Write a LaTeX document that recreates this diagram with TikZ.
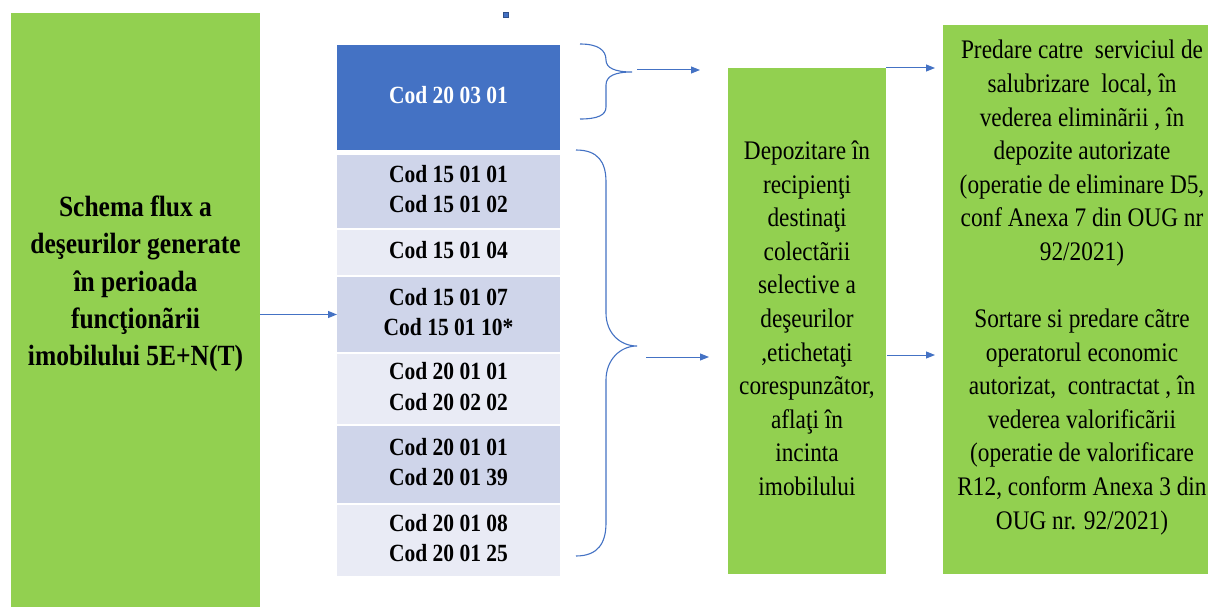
\documentclass[tikz,border=0pt]{standalone}
\usepackage{fontspec}
\usepackage{graphicx}
\setmainfont{Liberation Serif}
\usetikzlibrary{arrows.meta}
\definecolor{gr}{HTML}{92D050}
\definecolor{bl}{HTML}{4472C4}
\definecolor{rowdark}{HTML}{CFD5EA}
\definecolor{rowlight}{HTML}{E9EBF5}
\newcommand{\tallt}[1]{\scalebox{1}[1.15]{\begin{tabular}{@{}c@{}}#1\end{tabular}}}
\tikzset{
 box/.style={inner sep=0pt, outer sep=0pt, draw=none},
 codes/.style={align=center, font=\bfseries\fontsize{21.5}{26.1}\selectfont},
 body/.style={align=center, inner sep=0pt, font=\fontsize{23.3}{29.2}\selectfont},
 arr/.style={draw=bl, line width=1pt, -{Triangle[length=9pt,width=7pt]}},
 brace/.style={draw=bl, line width=1.1pt},
}
\begin{document}
\begin{tikzpicture}[x=1pt,y=-1pt]
\useasboundingbox[fill=white] (0,0) rectangle (1208,607);
% left box
\node[box, fill=gr, minimum width=249pt, minimum height=594pt] (left) at (135.5,310) {};
\node[align=center, inner sep=0pt, font=\bfseries\fontsize{25.5}{32.2}\selectfont] (lefttext) at (135.5,283.6)
 {\tallt{Schema flux a\\deşeurilor generate\\în perioada\\funcţionãrii\\imobilului 5E+N(T)}};
% small square
\node[box, fill=bl, draw=bl!70!black, line width=0.5pt, minimum size=5pt] (dot) at (506,15) {};
% codes
\node[box, fill=bl, text=white, codes, minimum width=223pt, minimum height=105pt] (c0) at (448.5,97.5) {\tallt{Cod 20 03 01}};
\node[box, fill=rowdark, codes, minimum width=223pt, minimum height=73pt] (r1) at (448.5,191.5) {\tallt{Cod 15 01 01\\Cod 15 01 02}};
\node[box, fill=rowlight, codes, minimum width=223pt, minimum height=45pt] (r2) at (448.5,252.5) {\tallt{Cod 15 01 04}};
\node[box, fill=rowdark, codes, minimum width=223pt, minimum height=75pt] (r3) at (448.5,314.5) {\tallt{Cod 15 01 07\\Cod 15 01 10*}};
\node[box, fill=rowlight, codes, minimum width=223pt, minimum height=70pt] (r4) at (448.5,389) {\tallt{Cod 20 01 01\\Cod 20 02 02}};
\node[box, fill=rowdark, codes, minimum width=223pt, minimum height=77pt] (r5) at (448.5,464.5) {\tallt{Cod 20 01 01\\Cod 20 01 39}};
\node[box, fill=rowlight, codes, minimum width=223pt, minimum height=71pt] (r6) at (448.5,540.5) {\tallt{Cod 20 01 08\\Cod 20 01 25}};
% left arrow
\draw[arr] (left.east |- r3.west) -- (r3.west);
% braces
\draw[brace] (580,44) .. controls (598,44) and (606,50) .. (606,60)
  .. controls (606,68) and (615,72) .. (632,72)
  .. controls (615,72) and (606,76) .. (606,85) -- (606,107)
  .. controls (606,115) and (598,119) .. (580,119);
\draw[brace] (576,150) .. controls (598,150) and (606,162) .. (606,182) -- (606,313)
  .. controls (606,333) and (620,346) .. (637,346)
  .. controls (620,346) and (606,360) .. (606,380) -- (606,523)
  .. controls (606,543) and (598,556) .. (576,556);
% middle and right boxes
\node[box, fill=gr, minimum width=158pt, minimum height=506pt] (mid) at (807,321) {};
\node[body] (midtext) at (807,320.8)
 {\tallt{Depozitare în\\recipienţi\\destinaţi\\colectãrii\\selective a\\deşeurilor\\,etichetaţi\\corespunzãtor,\\aflaţi în\\incinta\\imobilului}};
\node[box, fill=gr, minimum width=265pt, minimum height=549pt] (right) at (1075.5,299.5) {};
\node[body] (righttext) at (1082,287.3)
 {\tallt{Predare catre\ \ serviciul de\\salubrizare\ \ local, în\\vederea eliminãrii , în\\depozite autorizate\\(operatie de eliminare D5,\\conf Anexa 7 din OUG nr\\92/2021)\\[29.2pt]Sortare si predare cãtre\\operatorul economic\\autorizat,\ \ contractat , în\\vederea valorificãrii\\(operatie de valorificare\\R12, conform Anexa 3 din\\OUG nr. 92/2021)}};
% arrows to middle
\coordinate (a1s) at (637,70);
\coordinate (a1e) at (700,70);
\coordinate (a2s) at (646,357);
\coordinate (a2e) at (709,357);
\draw[arr] (a1s) -- (a1e);
\draw[arr] (a2s) -- (a2e);
% arrows to right
\coordinate (b2s) at (887,355);
\draw[arr, shorten >=8pt] (mid.north east) -- (mid.north east -| right.west);
\draw[arr, shorten >=8pt] (b2s) -- (b2s -| right.west);
\end{tikzpicture}
\end{document}
